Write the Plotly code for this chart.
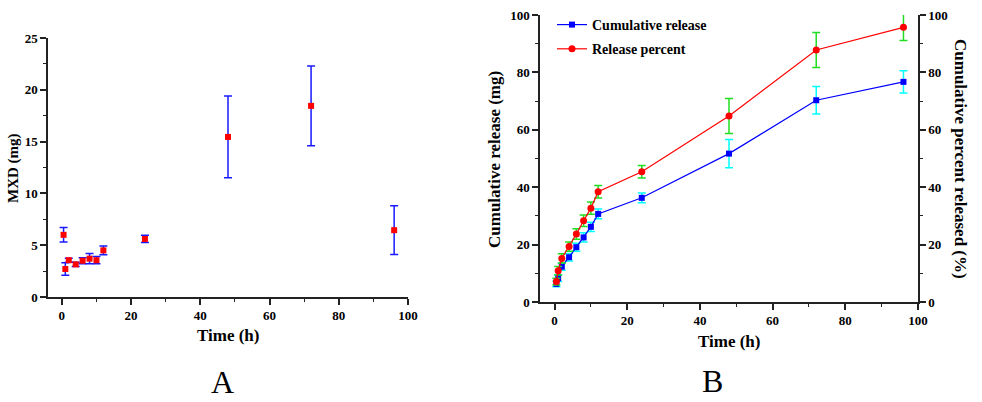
import plotly.graph_objects as go

# sampling times (h)
time_h = [0.5, 1, 2, 4, 6, 8, 10, 12, 24, 48, 72, 96]

# panel A: MXD amount per interval (mg)
mxd_mg = [6.0, 2.7, 3.55, 3.15, 3.5, 3.7, 3.55, 4.5, 5.6, 15.45, 18.45, 6.45]
mxd_sd = [0.7, 0.6, 0.2, 0.2, 0.3, 0.5, 0.35, 0.42, 0.35, 3.95, 3.85, 2.35]

# panel B: cumulative release (mg) and release percent (%)
cum_release = [6.3, 8.3, 12.3, 15.6, 19.1, 22.5, 26.2, 30.7, 36.3, 51.7, 70.3, 76.7]
cum_sd = [1.0, 1.2, 1.2, 1.3, 1.4, 1.6, 1.6, 1.7, 1.7, 4.9, 4.8, 3.9]
rel_percent = [7.1, 10.9, 15.2, 19.3, 23.7, 28.3, 32.7, 38.4, 45.4, 64.8, 87.8, 95.7]
rel_sd = [1.2, 1.5, 1.6, 1.6, 1.8, 2.0, 2.1, 2.2, 2.2, 6.1, 6.1, 4.6]

W, H = 982, 402
SERIF = "Liberation Serif"


def px_x(v):
    return v / W


def px_y(v):
    return 1 - v / H


fig = go.Figure()

# panel A
fig.add_trace(go.Scatter(
    x=time_h, y=mxd_mg, mode="markers", xaxis="x", yaxis="y",
    marker=dict(symbol="square", size=6, color="#ff0000"),
    error_y=dict(type="data", array=mxd_sd, color="#1a1aff", thickness=1.5, width=4),
    showlegend=False,
))

# panel B
fig.add_trace(go.Scatter(
    x=time_h, y=cum_release, mode="lines+markers", xaxis="x2", yaxis="y2",
    name="Cumulative release", legendgroup="a",
    line=dict(color="#0000ff", width=1.2),
    marker=dict(symbol="square", size=6, color="#0000ff"),
    error_y=dict(type="data", array=cum_sd, color="#00ffff", thickness=1.5, width=4),
))
fig.add_trace(go.Scatter(
    x=time_h, y=rel_percent, mode="lines+markers", xaxis="x2", yaxis="y3",
    name="Release percent", legendgroup="b",
    line=dict(color="#ff0000", width=1.2),
    marker=dict(symbol="circle", size=7, color="#ff0000"),
    error_y=dict(type="data", array=rel_sd, color="#22dd22", thickness=1.5, width=4),
))

tick_font = dict(family=SERIF, size=13, color="black", weight="bold")
axis_common = dict(
    showgrid=False, zeroline=False, showline=True, linecolor="#222", linewidth=1.5,
    ticks="outside", ticklen=6, tickwidth=1.5, tickcolor="#222",
    tickfont=tick_font, mirror=False,
)
minor_x = dict(ticks="outside", ticklen=3, dtick=10, tickcolor="#222", tickwidth=1.2)

fig.update_layout(
    width=W, height=H,
    margin=dict(l=0, r=0, t=0, b=0, autoexpand=False),
    paper_bgcolor="white", plot_bgcolor="white",
    xaxis=dict(domain=[px_x(48), px_x(408)], anchor="y", range=[-4, 100],
               tick0=0, dtick=20, minor=minor_x, **axis_common),
    yaxis=dict(domain=[px_y(297), px_y(38)], anchor="x", range=[0, 25],
               tick0=0, dtick=5,
               minor=dict(ticks="outside", ticklen=3, dtick=2.5, tickcolor="#222", tickwidth=1.2),
               **axis_common),
    xaxis2=dict(domain=[px_x(540), px_x(918)], anchor="y2", range=[-4, 100],
                tick0=0, dtick=20, minor=minor_x, **axis_common),
    yaxis2=dict(domain=[px_y(302), px_y(15)], anchor="x2", range=[0, 100],
                tick0=0, dtick=20, minor=minor_x, **axis_common),
    yaxis3=dict(overlaying="y2", side="right", anchor="x2", range=[0, 100],
                tick0=0, dtick=20, minor=minor_x, **axis_common),
    legend=dict(x=px_x(552), y=px_y(9), xanchor="left", yanchor="top",
                bgcolor="rgba(0,0,0,0)", tracegroupgap=3,
                font=dict(family=SERIF, size=14, color="black", weight="bold")),
)

title_font = dict(family=SERIF, size=17, color="black", weight="bold")
annotations = [
    dict(text="Time (h)", x=px_x(228), y=px_y(335), font=title_font),
    dict(text="MXD (mg)", x=px_x(13), y=px_y(168), textangle=-90,
         font=dict(family=SERIF, size=15, color="black", weight="bold")),
    dict(text="Time (h)", x=px_x(729), y=px_y(341), font=title_font),
    dict(text="Cumulative release (mg)", x=px_x(495), y=px_y(159), textangle=-90, font=title_font),
    dict(text="Cumulative percent released (%)", x=px_x(960), y=px_y(159), textangle=90, font=title_font),
    dict(text="A", x=px_x(222), y=px_y(382), font=dict(family=SERIF, size=32, color="black")),
    dict(text="B", x=px_x(712), y=px_y(381), font=dict(family=SERIF, size=32, color="black")),
]
for a in annotations:
    fig.add_annotation(xref="paper", yref="paper", showarrow=False,
                       xanchor="center", yanchor="middle", **a)

# page body has a default 8px margin; drop it so the figure fills the window
fig.write_html("out.html", config={"displayModeBar": False},
               post_script="document.body.style.margin = '0';")
